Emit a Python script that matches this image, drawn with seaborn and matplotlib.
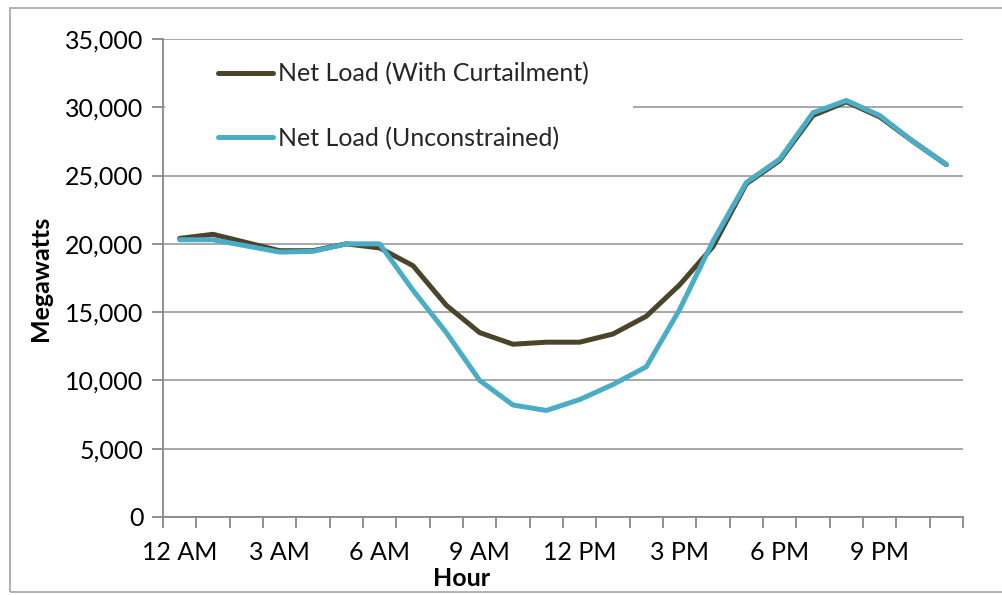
import numpy as np
import pandas as pd
import matplotlib
matplotlib.use("Agg")
import matplotlib.pyplot as plt
import seaborn as sns
from matplotlib.patches import Rectangle
from matplotlib.lines import Line2D

hours = list(range(24))
hour_labels = ["12 AM", "3 AM", "6 AM", "9 AM", "12 PM", "3 PM", "6 PM", "9 PM"]
curtailment = [20400, 20700, 20100, 19500, 19500, 20000, 19700, 18400, 15500, 13500,
               12650, 12800, 12800, 13400, 14700, 17000, 19800, 24400, 26100, 29400,
               30400, 29300, 27500, 25800]
unconstrained = [20300, 20300, 19850, 19400, 19450, 20000, 20000, 16600, 13500, 10000,
                 8200, 7800, 8600, 9700, 11000, 15200, 20200, 24500, 26200, 29600,
                 30500, 29400, 27500, 25800]
series_names = ["Net Load (With Curtailment)", "Net Load (Unconstrained)"]
colors = ["#4A452A", "#4BACC6"]

df = pd.concat([
    pd.DataFrame({"Hour": hours, "MW": curtailment, "Series": series_names[0]}),
    pd.DataFrame({"Hour": hours, "MW": unconstrained, "Series": series_names[1]}),
])

sns.set_theme(style="white")
plt.rcParams["font.family"] = ["Lato", "DejaVu Sans"]
FS = 18

fig = plt.figure(figsize=(10.02, 5.95), dpi=100)
ax = fig.add_axes([163/1002, 1-517/595, 800/1002, 478/595])

# outer chart frame
fig.patches.append(Rectangle((10/1002, 1-592/595), 1, 584/595, transform=fig.transFigure,
                             fill=False, edgecolor="#A6A6A6", linewidth=1.2, zorder=0))

sns.lineplot(data=df, x="Hour", y="MW", hue="Series", palette=colors, ax=ax,
             linewidth=3.6, legend=False, solid_capstyle="round", solid_joinstyle="round",
             zorder=3)

ax.set_xlim(-0.5, 23.5)
ax.set_ylim(0, 35000)
ax.set_yticks(np.arange(0, 35001, 5000))
ax.set_yticklabels([f"{v:,}" for v in range(0, 35001, 5000)])
ax.set_xticks(np.arange(0, 24, 3))
ax.set_xticklabels(hour_labels)
ax.set_xticks(np.arange(-0.5, 24, 1), minor=True)

ax.set_axisbelow(True)
ax.yaxis.grid(True, color="#A0A0A0", linewidth=1.3)
ax.xaxis.grid(False)
for s in ["top", "right"]:
    ax.spines[s].set_visible(False)
for s in ["left", "bottom"]:
    ax.spines[s].set_color("#888888")
    ax.spines[s].set_linewidth(1.3)

ax.tick_params(axis="y", which="major", direction="out", length=8, width=1.3,
               color="#888888", labelsize=FS, pad=6, left=True, labelcolor="black")
ax.tick_params(axis="x", which="major", length=0, labelsize=FS, pad=17, labelcolor="black")
ax.tick_params(axis="x", which="minor", direction="out", length=8, width=1.3,
               color="#888888", bottom=True)

ax.set_xlabel("Hour", fontsize=FS, fontweight="bold", color="black")
ax.set_ylabel("Megawatts", fontsize=FS, fontweight="bold", color="black")
ax.xaxis.set_label_coords((462-163)/800, -(578-517)/478)
ax.yaxis.set_label_coords(-(163-40)/800, 0.5)
ax.xaxis.label.set_verticalalignment("center")
ax.yaxis.label.set_verticalalignment("center")

# white legend area covering grid
ax.add_patch(Rectangle((0.002, (517-165)/478), (633-165)/800, (165-41)/478,
                       transform=ax.transAxes, facecolor="white", edgecolor="none", zorder=1.5))

handles = [Line2D([0], [0], color=c, linewidth=3.6, solid_capstyle="round") for c in colors]
leg = ax.legend(handles, series_names, loc="upper left",
                bbox_to_anchor=(218/1002, 1-62/595), bbox_transform=fig.transFigure,
                frameon=False, fontsize=FS, handlelength=2.2, handletextpad=0.2,
                labelspacing=1.66, borderpad=0, borderaxespad=0)
leg.set_zorder(5)

fig.savefig("out.png", dpi=100)
